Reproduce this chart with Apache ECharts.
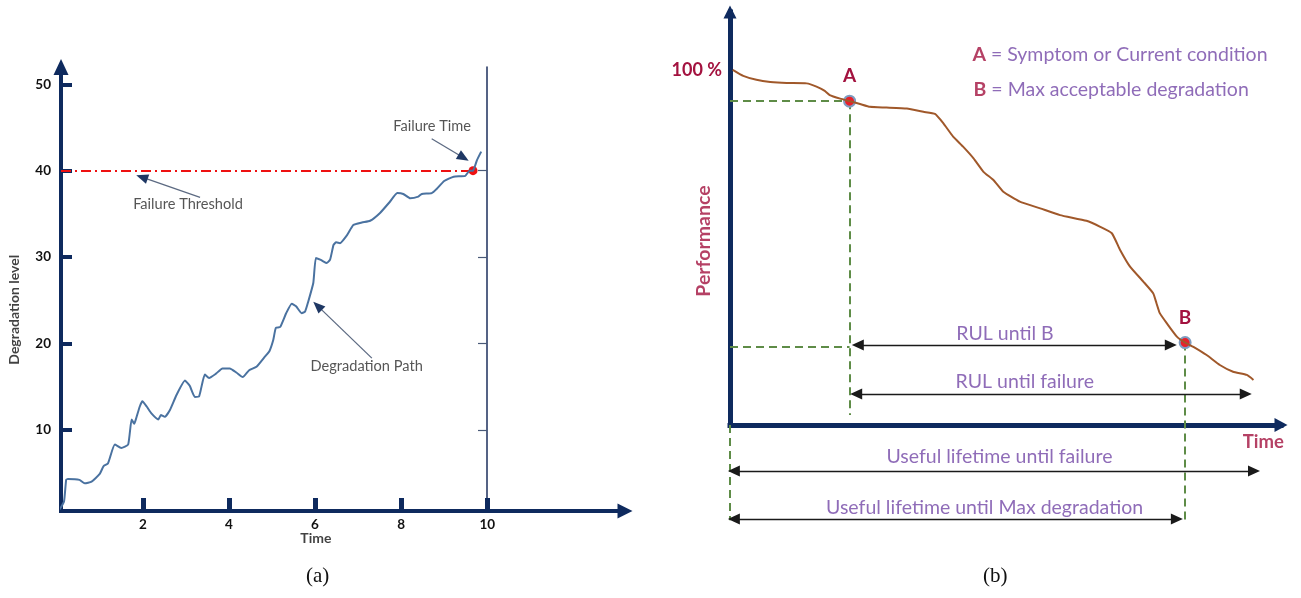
<!DOCTYPE html>
<html>
<head>
<meta charset="utf-8">
<script src="https://cdn.jsdelivr.net/npm/echarts@6/dist/echarts.min.js"></script>
<style>
  html, body { margin: 0; padding: 0; background: #fff; }
  #chart { width: 1301px; height: 598px; }
</style>
</head>
<body>
<div id="chart"></div>
<script>
// ---------- (a) Degradation path ----------
const degTime = [0.07, 0.17, 0.22, 0.26, 0.53, 0.65, 0.81, 1.00, 1.09, 1.19, 1.35, 1.50, 1.66, 1.74, 1.80, 1.85,
  1.93, 1.99, 2.09, 2.20, 2.36, 2.42, 2.51, 2.63, 2.78, 2.98, 3.09, 3.21, 3.31, 3.44, 3.54, 3.70, 3.85, 4.02,
  4.18, 4.32, 4.47, 4.64, 4.84, 4.94, 5.03, 5.09, 5.19, 5.33, 5.46, 5.56, 5.69, 5.77, 5.84, 5.96, 6.02, 6.12,
  6.19, 6.27, 6.35, 6.43, 6.49, 6.58, 6.74, 6.89, 7.09, 7.28, 7.51, 7.74, 7.91, 8.05, 8.21, 8.40, 8.48, 8.71,
  8.83, 9.00, 9.22, 9.49, 9.59, 9.67, 9.76, 9.86];
const degLevel = [0.8, 1.7, 4.2, 4.3, 4.2, 3.8, 4.0, 4.9, 5.8, 6.1, 8.3, 7.9, 8.3, 11.2, 10.7, 11.4,
  12.7, 13.3, 12.7, 11.9, 11.2, 11.7, 11.5, 12.3, 14.0, 15.7, 15.1, 13.8, 13.9, 16.4, 16.0, 16.5, 17.1, 17.1,
  16.6, 16.1, 16.9, 17.3, 18.5, 19.1, 20.4, 21.8, 21.9, 23.5, 24.6, 24.3, 23.5, 23.7, 24.8, 27.0, 29.9, 29.7,
  29.5, 29.3, 29.7, 31.4, 31.7, 31.6, 32.5, 33.7, 34.0, 34.2, 35.1, 36.4, 37.4, 37.3, 36.8, 37.0, 37.3, 37.4,
  37.9, 38.8, 39.3, 39.4, 40.0, 40.0, 41.2, 42.2];
const timeTicks = [2, 4, 6, 8, 10];
const levelTicks = [10, 20, 30, 40, 50];
const sideTicks = [10, 20, 30, 40];
const failureThreshold = 40;
const failureTime = 9.67;

// callouts: text, text anchor, arrow tail, arrow head (time, level)
const noteText = ['Failure Threshold', 'Failure Time', 'Degradation Path'];
const noteAt = [[3.05, 36.1], [8.72, 45.1], [7.20, 17.3]];
const noteTail = [[3.33, 36.9], [8.71, 43.7], [7.32, 18.3]];
const noteHead = [[1.98, 39.25], [9.45, 41.5], [6.06, 24.35]];
const axisTitleA = ['Time', 'Degradation level'];
const axisTitleAAt = [[6.02, -2.6], [-0.98, 23.9]];

// ---------- (b) Performance vs time ----------
const perfTime = [0.5, 2.4, 4.8, 7.3, 10.3, 13.9, 15.7, 17.2, 18.1, 20.0, 21.7, 23.6, 25.4, 28.4, 32.1, 35.1,
  37.2, 38.7, 40.5, 42.3, 44.2, 46.0, 47.8, 49.6, 52.6, 56.3, 59.9, 64.7, 67.2, 69.3, 70.8, 72.6, 75.0, 76.8,
  77.4, 78.0, 79.3, 81.1, 82.6, 84.1, 86.5, 88.9, 91.3, 93.8, 95.0];
const perfValue = [100.0, 98.3, 97.2, 96.6, 96.3, 96.2, 95.3, 94.1, 92.9, 91.9, 91.2, 90.4, 89.6, 89.4, 89.1, 88.2,
  87.6, 85.0, 81.2, 78.4, 75.1, 71.3, 69.0, 65.7, 62.9, 61.0, 59.1, 57.5, 55.8, 54.0, 49.3, 44.6, 40.4, 37.1,
  34.3, 31.5, 28.6, 24.9, 23.2, 22.0, 19.7, 16.9, 15.0, 14.1, 12.7];
const markName = ['A', 'B'];
const markTime = [21.7, 82.6];
const markPerf = [91.2, 23.2];
const perfTicks = [100];

// dashed guides [[t0, p0], [t1, p1]]
const guideFrom = [[0, 91.2], [21.7, 91.2], [0, 22.0], [0, 0], [82.6, 23.2]];
const guideTo = [[21.7, 91.2], [21.7, 2.8], [21.7, 22.0], [0, -26.8], [82.6, -27.6]];

// span arrows: label, start, end, level, label anchor
const spanText = ['RUL until B', 'RUL until failure', 'Useful lifetime until failure', 'Useful lifetime until Max degradation'];
const spanStart = [23.2, 22.9, 0.7, 0.7];
const spanEnd = [80.0, 93.6, 95.1, 81.1];
const spanLevel = [22.5, 8.7, -12.95, -26.5];
const spanTextAt = [[49.9, 25.6], [53.5, 12.1], [48.9, -9.0], [46.2, -23.4]];

const legendKey = ['A', 'B'];
const legendDesc = ['Symptom or Current condition', 'Max acceptable degradation'];
const legendAt = [[43.9, 104.2], [44.1, 94.3]];
const axisTitleB = ['Performance', 'Time'];
const axisTitleBAt = [[-4.81, 51.8], [96.8, -4.8]];

// ---------- styling ----------
const FONT = 'Lato, "Open Sans", sans-serif';
const NAVY = '#0e2a5e';
const CRIMSON = '#a3123f';
const PURPLE = '#7347a6';
const GREEN = '#5e8c47';

const zip = (a, b) => a.map((v, i) => [v, b[i]]);

const chart = echarts.init(document.getElementById('chart'), null, { renderer: 'canvas' });

const captionStyle = { fontFamily: '"Liberation Serif", "DejaVu Serif", serif', fontSize: 21, fontWeight: 'normal', color: '#111' };

const option = {
  animation: false,
  backgroundColor: '#fff',
  title: [
    { text: '(a)', left: 306, top: 566, padding: 0, textStyle: captionStyle },
    { text: '(b)', left: 983, top: 566, padding: 0, textStyle: captionStyle }
  ],
  grid: [
    { left: 61, top: 67, width: 564, height: 444 },
    { left: 61, top: 67, width: 426, height: 444 },
    { left: 730, top: 12, width: 551, height: 413 }
  ],
  xAxis: [
    {
      gridIndex: 0, type: 'value', min: 0.1, max: 13.2,
      axisLine: { show: true, symbol: ['none', 'triangle'], symbolSize: [15, 15],
        lineStyle: { color: NAVY, width: 4, cap: 'square' } },
      axisTick: { show: true, inside: true, length: 13, customValues: timeTicks,
        lineStyle: { color: NAVY, width: 5 } },
      axisLabel: { show: true, customValues: timeTicks, margin: 7, color: '#111',
        fontFamily: FONT, fontWeight: 'bold', fontSize: 13.5 },
      splitLine: { show: false }
    },
    { gridIndex: 1, type: 'value', min: 0.1, max: 10, show: false },
    {
      gridIndex: 2, type: 'value', min: 0, max: 100,
      axisLine: { show: true, symbol: ['none', 'triangle'], symbolSize: [14, 13],
        lineStyle: { color: NAVY, width: 5, cap: 'square' } },
      axisTick: { show: false }, axisLabel: { show: false }, splitLine: { show: false }
    }
  ],
  yAxis: [
    {
      gridIndex: 0, type: 'value', min: 0.6, max: 52,
      axisLine: { show: true, symbol: ['none', 'triangle'], symbolSize: [15, 16],
        lineStyle: { color: NAVY, width: 4, cap: 'square' } },
      axisTick: { show: true, inside: true, length: 11, customValues: levelTicks,
        lineStyle: { color: NAVY, width: 4 } },
      axisLabel: { show: true, customValues: levelTicks, margin: 10, color: '#111',
        fontFamily: FONT, fontWeight: 'bold', fontSize: 13.5 },
      splitLine: { show: false }
    },
    {
      gridIndex: 1, type: 'value', min: 0.6, max: 52, position: 'right',
      axisLine: { show: true, onZero: false, lineStyle: { color: '#1d2f5c', width: 1.5 } },
      axisTick: { show: true, inside: true, length: 9, customValues: sideTicks,
        lineStyle: { color: '#4a5a78', width: 1.2 } },
      axisLabel: { show: false }, splitLine: { show: false }
    },
    {
      gridIndex: 2, type: 'value', min: 0, max: 116.3,
      axisLine: { show: true, symbol: ['none', 'triangle'], symbolSize: [13, 13],
        lineStyle: { color: NAVY, width: 5, cap: 'square' } },
      axisTick: { show: false },
      axisLabel: { show: true, customValues: perfTicks, margin: 8, color: CRIMSON,
        fontFamily: FONT, fontWeight: 'bold', fontSize: 18, formatter: v => v + ' %' },
      splitLine: { show: false }
    }
  ],
  series: [
    // (a) failure threshold
    {
      type: 'lines', coordinateSystem: 'cartesian2d', xAxisIndex: 0, yAxisIndex: 0, clip: false,
      symbol: 'none', silent: true,
      lineStyle: { color: '#ee1111', width: 2, opacity: 1, type: [10, 4, 2, 4] },
      data: [{ coords: [[0.1, failureThreshold], [failureTime, failureThreshold]] }]
    },
    // (a) degradation path
    {
      type: 'line', xAxisIndex: 0, yAxisIndex: 0, data: zip(degTime, degLevel),
      showSymbol: false, smooth: 0.15, silent: true,
      lineStyle: { color: '#4a72a0', width: 2 }
    },
    // (a) failure point
    {
      type: 'scatter', xAxisIndex: 0, yAxisIndex: 0, data: [[failureTime, failureThreshold]],
      symbolSize: 9, itemStyle: { color: '#ee1111', opacity: 1 }, silent: true
    },
    // (a) callout shafts
    {
      type: 'lines', coordinateSystem: 'cartesian2d', xAxisIndex: 0, yAxisIndex: 0, clip: false,
      symbol: 'none', silent: true,
      lineStyle: { color: '#5c6a82', width: 1.3, opacity: 1 },
      data: noteTail.map((t, i) => ({ coords: [t, noteHead[i]] }))
    },
    // (a) callout heads
    {
      type: 'lines', coordinateSystem: 'cartesian2d', xAxisIndex: 0, yAxisIndex: 0, clip: false,
      symbol: ['none', 'triangle'], symbolSize: [[10, 12], [10, 12]], silent: true,
      lineStyle: { color: '#1f3864', width: 0, opacity: 1 },
      data: noteTail.map((t, i) => ({ coords: [t, noteHead[i]] }))
    },
    // (a) callout texts
    {
      type: 'scatter', xAxisIndex: 0, yAxisIndex: 0, clip: false, symbolSize: 1, silent: true,
      itemStyle: { color: 'transparent' },
      label: { show: true, position: 'inside', formatter: p => p.name, color: '#2b2b2b',
        fontFamily: FONT, fontSize: 14.6 },
      data: noteText.map((t, i) => ({ name: t, value: noteAt[i] }))
    },
    // (a) axis titles
    {
      type: 'scatter', xAxisIndex: 0, yAxisIndex: 0, clip: false, symbolSize: 1, silent: true,
      itemStyle: { color: 'transparent' },
      label: { show: true, position: 'inside', formatter: p => p.name, color: '#111',
        fontFamily: FONT, fontSize: 14, fontWeight: 'bold' },
      data: axisTitleA.map((t, i) => ({ name: t, value: axisTitleAAt[i], label: { rotate: i === 1 ? 90 : 0 } }))
    },

    // (b) dashed guides
    {
      type: 'lines', coordinateSystem: 'cartesian2d', xAxisIndex: 2, yAxisIndex: 2, clip: false,
      symbol: 'none', silent: true,
      lineStyle: { color: GREEN, width: 2, opacity: 1, type: [8, 5] },
      data: guideFrom.map((f, i) => ({ coords: [f, guideTo[i]] }))
    },
    // (b) performance curve
    {
      type: 'line', xAxisIndex: 2, yAxisIndex: 2, data: zip(perfTime, perfValue),
      showSymbol: false, smooth: 0.15, silent: true,
      lineStyle: { color: '#a0582a', width: 2 }
    },
    // (b) span arrows
    {
      type: 'lines', coordinateSystem: 'cartesian2d', xAxisIndex: 2, yAxisIndex: 2, clip: false,
      symbol: ['triangle', 'triangle'], symbolSize: [[11, 12], [11, 12]], silent: true,
      lineStyle: { color: '#1a1a1a', width: 1.3, opacity: 1 },
      data: spanStart.map((s, i) => ({ coords: [[s, spanLevel[i]], [spanEnd[i], spanLevel[i]]] }))
    },
    // (b) span labels
    {
      type: 'scatter', xAxisIndex: 2, yAxisIndex: 2, clip: false, symbolSize: 1, silent: true,
      itemStyle: { color: 'transparent' },
      label: { show: true, position: 'inside', formatter: p => p.name, color: PURPLE,
        fontFamily: FONT, fontSize: 19.5 },
      data: spanText.map((t, i) => ({ name: t, value: spanTextAt[i] }))
    },
    // (b) points A and B
    {
      type: 'scatter', xAxisIndex: 2, yAxisIndex: 2, clip: false, silent: true,
      symbolSize: 11,
      itemStyle: { color: '#e8202a', borderColor: '#7f9bbf', borderWidth: 2, opacity: 1 },
      label: { show: true, position: 'top', distance: 9, formatter: p => p.name, color: CRIMSON,
        fontFamily: FONT, fontSize: 19, fontWeight: 'bold' },
      data: markName.map((n, i) => ({ name: n, value: [markTime[i], markPerf[i]] }))
    },
    // (b) key
    {
      type: 'scatter', xAxisIndex: 2, yAxisIndex: 2, clip: false, symbolSize: 1, silent: true,
      itemStyle: { color: 'transparent' },
      label: {
        show: true, position: 'right', distance: 0,
        formatter: p => '{k|' + p.data.key + '}{t| = ' + p.name + '}',
        rich: {
          k: { color: CRIMSON, fontFamily: FONT, fontSize: 19.5, fontWeight: 'bold' },
          t: { color: PURPLE, fontFamily: FONT, fontSize: 19.5 }
        }
      },
      data: legendDesc.map((d, i) => ({ name: d, key: legendKey[i], value: legendAt[i] }))
    },
    // (b) axis titles
    {
      type: 'scatter', xAxisIndex: 2, yAxisIndex: 2, clip: false, symbolSize: 1, silent: true,
      itemStyle: { color: 'transparent' },
      label: { show: true, position: 'inside', formatter: p => p.name, color: CRIMSON,
        fontFamily: FONT, fontWeight: 'bold' },
      data: axisTitleB.map((t, i) => ({ name: t, value: axisTitleBAt[i],
        label: { rotate: i === 0 ? 90 : 0, fontSize: i === 0 ? 19.5 : 18.5 } }))
    }
  ]
};

chart.setOption(option);
</script>
</body>
</html>
